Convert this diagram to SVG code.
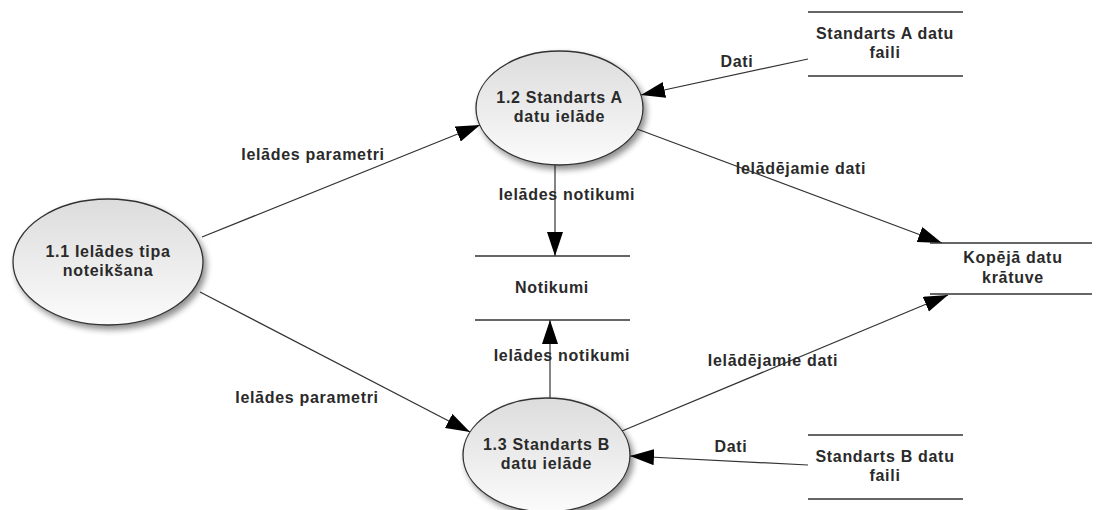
<svg xmlns="http://www.w3.org/2000/svg" width="1099" height="510" viewBox="0 0 1099 510">
<style>
text{font-family:"Liberation Sans",Arial,sans-serif;font-weight:bold;font-size:16px;letter-spacing:0.7px;fill:#2a2a2a;text-anchor:middle}
.proc{fill:url(#g);stroke:#333;stroke-width:1.3;filter:url(#sh)}
.store{stroke:#333;stroke-width:1.3}
.conn{stroke:#333;stroke-width:1.2;fill:none;marker-end:url(#arr)}
</style>
<defs>
<linearGradient id="g" x1="0" y1="0" x2="0" y2="1">
<stop offset="0" stop-color="#dcdcdc"/>
<stop offset="1" stop-color="#fbfbfb"/>
</linearGradient>
<filter id="sh" x="-20%" y="-20%" width="150%" height="150%">
<feGaussianBlur in="SourceAlpha" stdDeviation="3"/>
<feOffset dx="3" dy="4" result="b"/>
<feComponentTransfer><feFuncA type="linear" slope="0.45"/></feComponentTransfer>
<feMerge><feMergeNode/><feMergeNode in="SourceGraphic"/></feMerge>
</filter>
<marker id="arr" markerUnits="userSpaceOnUse" markerWidth="26" markerHeight="18" refX="24" refY="8" orient="auto">
<path d="M0,0 L24,8 L0,16 z" fill="#000"/>
</marker>
</defs>
<g id="connectors">
<line class="conn" x1="202" y1="237" x2="480" y2="125"/>
<line class="conn" x1="200" y1="292" x2="470" y2="432"/>
<line class="conn" x1="808" y1="59" x2="641" y2="95"/>
<line class="conn" x1="808" y1="465" x2="630" y2="456"/>
<line class="conn" x1="555" y1="165" x2="555" y2="256"/>
<line class="conn" x1="550" y1="398" x2="550" y2="320"/>
<line class="conn" x1="637" y1="129" x2="942" y2="243"/>
<line class="conn" x1="622" y1="431" x2="948" y2="295"/>
<text x="313" y="160">Ielādes parametri</text>
<text x="307" y="403">Ielādes parametri</text>
<text x="737" y="67">Dati</text>
<text x="731" y="452">Dati</text>
<text x="567" y="200">Ielādes notikumi</text>
<text x="562" y="361">Ielādes notikumi</text>
<text x="801" y="174">Ielādējamie dati</text>
<text x="773" y="366">Ielādējamie dati</text>
</g>
<g id="p11">
<ellipse class="proc" cx="108" cy="262" rx="95" ry="63"/>
<text x="108" y="257">1.1 Ielādes tipa</text>
<text x="108" y="276">noteikšana</text>
</g>
<g id="p12">
<ellipse class="proc" cx="559.5" cy="108" rx="83.5" ry="57"/>
<text x="559.5" y="103">1.2 Standarts A</text>
<text x="559.5" y="122">datu ielāde</text>
</g>
<g id="p13">
<ellipse class="proc" cx="546.5" cy="455" rx="83.5" ry="57"/>
<text x="546.5" y="450">1.3 Standarts B</text>
<text x="546.5" y="469">datu ielāde</text>
</g>
<g id="dsA">
<line class="store" x1="808" y1="12" x2="963" y2="12"/>
<line class="store" x1="808" y1="76" x2="963" y2="76"/>
<text x="885" y="39">Standarts A datu</text>
<text x="885" y="58">faili</text>
</g>
<g id="dsNotikumi">
<line class="store" x1="475" y1="256" x2="630" y2="256"/>
<line class="store" x1="475" y1="320" x2="630" y2="320"/>
<text x="552" y="293">Notikumi</text>
</g>
<g id="dsKopeja">
<line class="store" x1="930" y1="243" x2="1092" y2="243"/>
<line class="store" x1="930" y1="294" x2="1092" y2="294"/>
<text x="1013" y="263">Kopējā datu</text>
<text x="1013" y="283">krātuve</text>
</g>
<g id="dsB">
<line class="store" x1="808" y1="435" x2="963" y2="435"/>
<line class="store" x1="808" y1="499" x2="963" y2="499"/>
<text x="885" y="462">Standarts B datu</text>
<text x="885" y="481">faili</text>
</g>
</svg>
